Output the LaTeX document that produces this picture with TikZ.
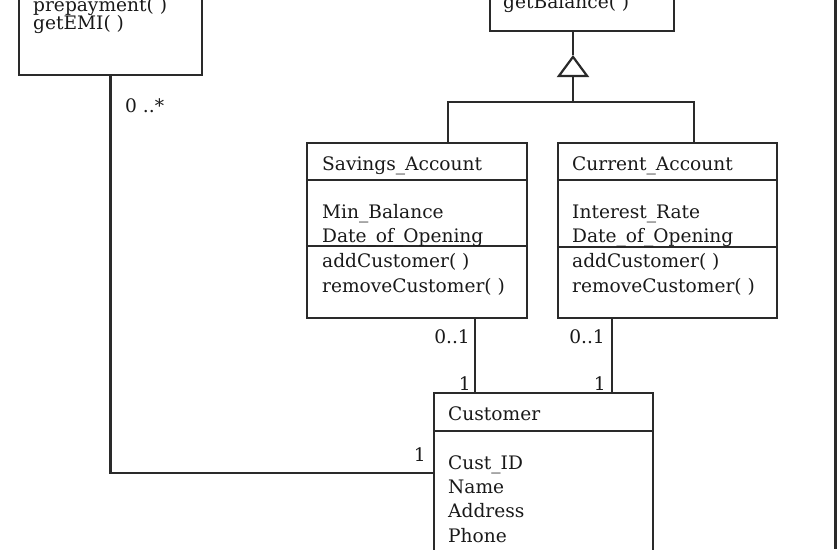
\documentclass[tikz,border=0pt]{standalone}
\usepackage{fontspec}
\setmainfont{DejaVu Serif}
\usetikzlibrary{arrows.meta}
\definecolor{linegray}{HTML}{2A2A2A}

\begin{document}
\begin{tikzpicture}[x=1pt, y=-1pt,
        cls/.style={draw=linegray, line width=2.2pt, rectangle, inner sep=0pt},
        txt/.style={anchor=base west, inner sep=0pt, font=\fontsize{18.6}{22}\selectfont, text=black!90},
        assoc/.style={draw=linegray, line width=2.2pt}]
        \useasboundingbox (0,0) rectangle (838,549);
        \clip (0,0) rectangle (838,549);

        % Blocks
        \node[cls, minimum width=183pt, minimum height=195pt] (loan) at (110.5,-22.5) {};
        \node[cls, minimum width=184pt, minimum height=131pt] (acct) at (582,-34.5) {};
        \node[cls, minimum width=220pt, minimum height=175pt] (sav) at (417,230.5) {};
        \node[cls, minimum width=219pt, minimum height=175pt] (cur) at (667.5,230.5) {};
        \node[cls, minimum width=219pt, minimum height=160pt] (cust) at (543.5,473) {};

        \draw[assoc] ([yshift=-38pt]sav.north west) -- ([yshift=-38pt]sav.north east);
        \draw[assoc] ([yshift=-104pt]sav.north west) -- ([yshift=-104pt]sav.north east);
        \draw[assoc] ([yshift=-38pt]cur.north west) -- ([yshift=-38pt]cur.north east);
        \draw[assoc] ([yshift=-105pt]cur.north west) -- ([yshift=-105pt]cur.north east);
        \draw[assoc] ([yshift=-39pt]cust.north west) -- ([yshift=-39pt]cust.north east);

        % Texts
        \node[txt] (loanM1) at (33,11) {prepayment( )};
        \node[txt] (loanM2) at (33,29) {getEMI( )};
        \node[txt] (acctM1) at (503,8) {getBalance( )};

        \node[txt] (savN) at (322,170) {Savings\_Account};
        \node[txt] (savA1) at (322,218) {Min\_Balance};
        \node[txt] (savA2) at (322,242) {Date\_of\_Opening};
        \node[txt] (savM1) at (322,267) {addCustomer( )};
        \node[txt] (savM2) at (322,292) {removeCustomer( )};

        \node[txt] (curN) at (572,170) {Current\_Account};
        \node[txt] (curA1) at (572,218) {Interest\_Rate};
        \node[txt] (curA2) at (572,242) {Date\_of\_Opening};
        \node[txt] (curM1) at (572,267) {addCustomer( )};
        \node[txt] (curM2) at (572,292) {removeCustomer( )};

        \node[txt] (custN) at (448,420) {Customer};
        \node[txt] (custA1) at (448,469) {Cust\_ID};
        \node[txt] (custA2) at (448,493) {Name};
        \node[txt] (custA3) at (448,517) {Address};
        \node[txt] (custA4) at (448,542) {Phone};

        % Arrows
        \coordinate (gen) at (573,102);
        \coordinate (tri) at (573,55);
        \coordinate (savC) at ([xshift=58pt]sav.south);
        \coordinate (curC) at ([xshift=-55.5pt]cur.south);
        \draw[assoc] (acct.south -| tri) -- (tri);
        \draw[assoc, -{Triangle[open, length=22pt, width=32pt]}] (gen) -- (tri);
        \draw[assoc] ([xshift=31pt]sav.north) |- (gen) -| ([xshift=26.5pt]cur.north);
        \draw[assoc] (savC) -- (savC |- cust.north);
        \draw[assoc] (curC) -- (curC |- cust.north);
        \draw[assoc] (loan.south) |- (cust.west);

        % Multiplicities
        \node[txt] (mLoan) at (125,112) {0 ..*};
        \node[txt, anchor=base east] (mSav) at (470,343) {0..1};
        \node[txt, anchor=base east] (mSavC) at (471,390) {1};
        \node[txt, anchor=base east] (mCur) at (605,343) {0..1};
        \node[txt, anchor=base east] (mCurC) at (606,390) {1};
        \node[txt, anchor=base east] (mCust) at (426,461) {1};

        % Frame
        \draw[assoc] (835.5,0) -- (835.5,549);
\end{tikzpicture}
\end{document}
